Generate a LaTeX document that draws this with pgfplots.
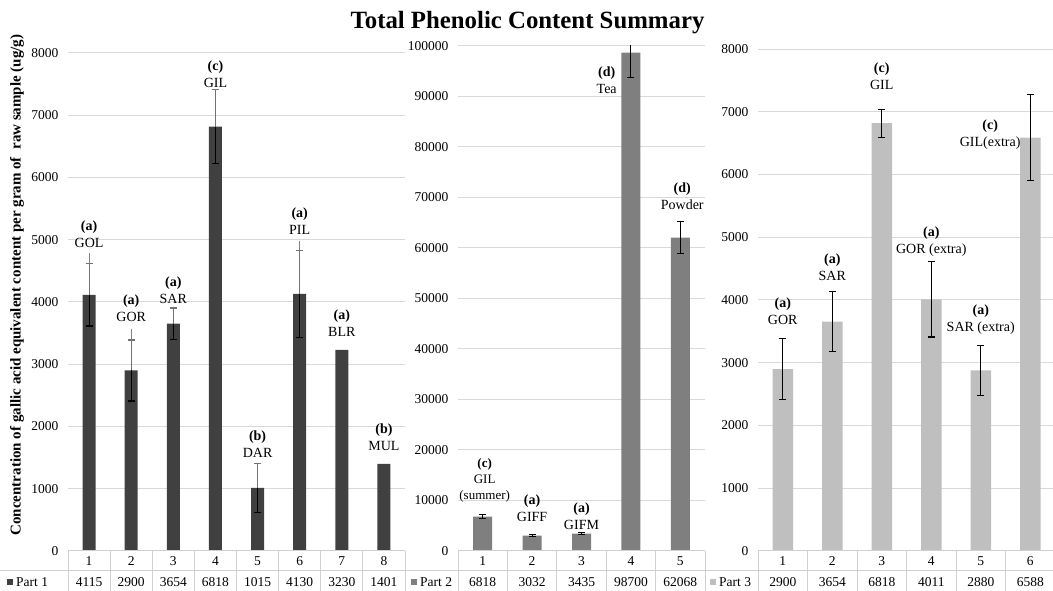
\documentclass[border=0pt]{standalone}
\usepackage{fontspec}
\setmainfont{Liberation Serif}
\usepackage{pgfplots}
\pgfplotsset{compat=1.18}
\usepackage{pgfplotstable}

\definecolor{pone}{HTML}{404040}
\definecolor{ptwo}{HTML}{7F7F7F}
\definecolor{pthree}{HTML}{BFBFBF}
\definecolor{gridc}{HTML}{D9D9D9}
\definecolor{tablec}{HTML}{D0D0D0}

% x = sample index, y = mean content, err = error bar, ext = upper whisker
\pgfplotstableread{
x y err ext
1 4115 500 665
2 2900 490 660
3 3654 250 0
4 6818 590 0
5 1015 390 0
6 4130 695 845
7 3230 0 0
8 1401 0 0
}\partone

\pgfplotstableread{
x y err
1 6818 450
2 3032 200
3 3435 200
4 98700 4900
5 62068 3100
}\parttwo

\pgfplotstableread{
x y err
1 2900 490
2 3654 480
3 6818 225
4 4011 600
5 2880 400
6 6588 680
}\partthree

\tikzset{lab/.style={align=center, inner sep=0pt, font=\fontsize{14}{17}\selectfont}}

\pgfplotsset{
  tpc/.style={
    anchor=south west, scale only axis,
    ymin=0, xtick=\empty,
    ymajorgrids, grid style={draw=gridc, line width=1pt},
    axis line style={draw=none}, major tick length=0pt,
    yticklabel style={font=\fontsize{13.5}{15}\selectfont, xshift=-6pt},
    /pgf/number format/assume math mode=true,
    /pgf/number format/fixed,
    /pgf/number format/precision=0,
    /pgf/number format/1000 sep={},
    scaled y ticks=false,
  },
  error bars/blackerr/.style={error bar style={draw=black, solid, line width=1.1pt},
    error mark options={rotate=90, mark size=3.5pt, line width=1.1pt, draw=black}},
}

\begin{document}
\begin{tikzpicture}
\path[use as bounding box] (0pt,0pt) rectangle (1053pt,591pt);

% ---------- Part 1 ----------
\begin{axis}[tpc, at={(68pt,40pt)}, width=337pt, height=498pt,
  xmin=0.5, xmax=8.5, ymax=8000, ytick={0,1000,...,8000}]
\addplot[ybar, bar width=13pt, bar shift=0pt, fill=pone, draw=none]
  table[x=x, y=y] {\partone};
\addplot[draw=none, mark=none, forget plot,
  error bars/.cd, y dir=plus, y explicit, error mark=none,
  error bar style={draw=gray, solid, line width=1.1pt}]
  table[x=x, y=y, y error=ext] {\partone};
\addplot[draw=none, mark=none, forget plot, skip coords between index={6}{8},
  error bars/.cd, y dir=plus, y explicit,
  error bar style={draw=gray!90!black, solid, line width=1.1pt},
  error mark options={rotate=90, mark size=3.5pt, line width=1.1pt, draw=gray!90!black}]
  table[x=x, y=y, y error=err] {\partone};
\addplot[draw=none, mark=none, forget plot, skip coords between index={6}{8},
  error bars/.cd, y dir=minus, y explicit, blackerr]
  table[x=x, y=y, y error=err] {\partone};
\node[lab] at (axis cs:1,5092) {\textbf{(a)}\\GOL};
\node[lab] at (axis cs:2,3904) {\textbf{(a)}\\GOR};
\node[lab] at (axis cs:3,4193) {\textbf{(a)}\\SAR};
\node[lab] at (axis cs:4,7663) {\textbf{(c)}\\GIL};
\node[lab] at (axis cs:5,1719) {\textbf{(b)}\\DAR};
\node[lab] at (axis cs:6,5301) {\textbf{(a)}\\PIL};
\node[lab] at (axis cs:7,3663) {\textbf{(a)}\\BLR};
\node[lab] at (axis cs:8,1831) {\textbf{(b)}\\MUL};
\end{axis}

% ---------- Part 2 ----------
\begin{axis}[tpc, at={(458pt,40pt)}, width=247pt, height=505pt,
  xmin=0.5, xmax=5.5, ymax=100000, ytick={0,10000,...,100000}]
\addplot[ybar, bar width=19pt, bar shift=0pt, fill=ptwo, draw=none]
  table[x=x, y=y] {\parttwo};
\addplot[draw=none, mark=none, forget plot,
  error bars/.cd, y dir=both, y explicit, blackerr]
  table[x=x, y=y, y error=err] {\parttwo};
\node[lab, font=\fontsize{13}{16}\selectfont] at (axis cs:1.04,14060) {\textbf{(c)}\\GIL\\(summer)};
\node[lab] at (axis cs:2,8515) {\textbf{(a)}\\GIFF};
\node[lab] at (axis cs:3,6930) {\textbf{(a)}\\GIFM};
\node[lab] at (axis cs:3.51,93270) {\textbf{(d)}\\Tea};
\node[lab] at (axis cs:5.04,70300) {\textbf{(d)}\\Powder};
\end{axis}

% ---------- Part 3 ----------
\begin{axis}[tpc, at={(758pt,40pt)}, width=297pt, height=502pt,
  xmin=0.5, xmax=6.5, ymax=8000, ytick={0,1000,...,8000}]
\addplot[ybar, bar width=20.5pt, bar shift=0pt, fill=pthree, draw=none]
  table[x=x, y=y] {\partthree};
\addplot[draw=none, mark=none, forget plot,
  error bars/.cd, y dir=both, y explicit, blackerr]
  table[x=x, y=y, y error=err] {\partthree};
\node[lab] at (axis cs:1,3825) {\textbf{(a)}\\GOR};
\node[lab] at (axis cs:2,4526) {\textbf{(a)}\\SAR};
\node[lab] at (axis cs:3,7570) {\textbf{(c)}\\GIL};
\node[lab] at (axis cs:4,4924) {\textbf{(a)}\\GOR (extra)};
\node[lab] at (axis cs:5,3681) {\textbf{(a)}\\SAR (extra)};
\node[lab] at (axis cs:5.19,6630) {\textbf{(c)}\\GIL(extra)};
\end{axis}

% ---------- data table below the panels ----------
\begin{scope}[x=1pt, y=1pt, tablec, line width=1pt]
  \draw (0,20) -- (1053,20);
  \draw (68,40) -- (405,40);
  \draw (458,40) -- (705,40);
  \draw (758,40) -- (1055,40);
  \foreach \k in {0,...,8} \draw ({68+\k*42.125},0) -- ++(0,40);
  \foreach \k in {0,...,5} \draw ({458+\k*49.4},0) -- ++(0,40);
  \foreach \k in {0,...,6} \draw ({758+\k*49.5},0) -- ++(0,40);
\end{scope}

\begin{scope}[x=1pt, y=1pt, every node/.style={font=\fontsize{13.5}{15}\selectfont, inner sep=0pt}]
  \foreach \i/\v in {1/4115,2/2900,3/3654,4/6818,5/1015,6/4130,7/3230,8/1401} {
    \node at ({68+(\i-0.5)*42.125},30) {\i};
    \node at ({68+(\i-0.5)*42.125},9) {\v};
  }
  \foreach \i/\v in {1/6818,2/3032,3/3435,4/98700,5/62068} {
    \node at ({458+(\i-0.5)*49.4},30) {\i};
    \node at ({458+(\i-0.5)*49.4},9) {\v};
  }
  \foreach \i/\v in {1/2900,2/3654,3/6818,4/4011,5/2880,6/6588} {
    \node at ({758+(\i-0.5)*49.5},30) {\i};
    \node at ({758+(\i-0.5)*49.5},9) {\v};
  }
  \fill[pone] (7,6) rectangle (13,12);
  \node[anchor=west] at (16,9) {Part 1};
  \fill[ptwo] (411,6) rectangle (417,12);
  \node[anchor=west] at (420,9) {Part 2};
  \fill[pthree] (710,6) rectangle (716,12);
  \node[anchor=west] at (719,9) {Part 3};
\end{scope}

% ---------- titles ----------
\node[font=\fontsize{24.8}{28}\selectfont\bfseries] at (527.5pt,568pt) {Total Phenolic Content Summary};
\node[rotate=90, font=\fontsize{15}{17}\selectfont\bfseries] at (17pt,306pt)
  {Concentration of gallic acid equivalent content per gram of\ \ raw sample (ug/g)};
\end{tikzpicture}
\end{document}
